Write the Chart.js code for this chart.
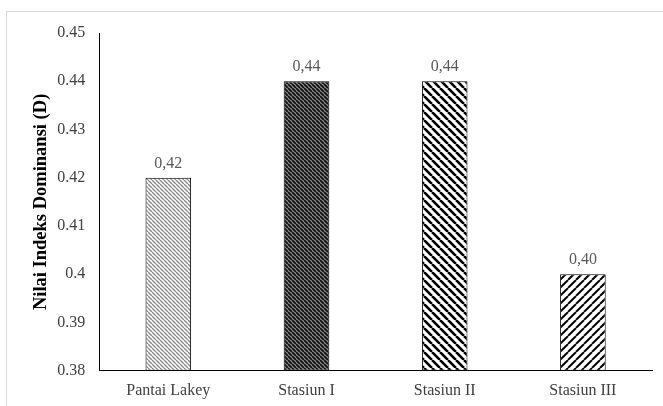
<!DOCTYPE html>
<html>
<head>
<meta charset="utf-8">
<script src="https://cdn.jsdelivr.net/npm/chart.js@4.4.1/dist/chart.umd.min.js"></script>
<style>
  html, body { margin: 0; padding: 0; background: #fff; }
  #wrap { width: 663px; height: 406px; position: relative; }
</style>
</head>
<body>
<div id="wrap"><canvas id="myChart" width="663" height="406"></canvas></div>
<script>
// data
const stasiun = ['Pantai Lakey', 'Stasiun I', 'Stasiun II', 'Stasiun III'];
const nilai_d = [0.42, 0.44, 0.44, 0.40];
const y_min = 0.38;
const y_max = 0.45;
const y_step = 0.01;

Chart.defaults.font.family = "'Liberation Serif', 'DejaVu Serif', serif";
Chart.defaults.font.size = 16;
Chart.defaults.color = '#404040';

// diagonal hatch tile, dir 1 = "\" , dir -1 = "/"
function makeHatch(size, lineColor, lineWidth, bg, dir) {
    const c = document.createElement('canvas');
    c.width = size;
    c.height = size;
    const g = c.getContext('2d');
    g.fillStyle = bg;
    g.fillRect(0, 0, size, size);
    g.strokeStyle = lineColor;
    g.lineWidth = lineWidth;
    g.beginPath();
    for (let k = -1; k <= 1; k++) {
        if (dir > 0) {
            g.moveTo(k * size, 0);
            g.lineTo(k * size + size, size);
        } else {
            g.moveTo(k * size, size);
            g.lineTo(k * size + size, 0);
        }
    }
    g.stroke();
    return g.createPattern(c, 'repeat');
}

const ctx = document.getElementById('myChart');

const fills = [
    makeHatch(4, '#8a8a8a', 1.4, '#ffffff', 1),
    makeHatch(4, '#111111', 1.8, '#8c8c8c', 1),
    makeHatch(8, '#000000', 2.6, '#ffffff', 1),
    makeHatch(8, '#000000', 2.0, '#ffffff', -1)
];

// light frame round the chart
const framePlugin = {
    id: 'frame',
    beforeDraw(chart) {
        const c = chart.ctx;
        c.save();
        c.fillStyle = '#fff';
        c.fillRect(0, 0, chart.width, chart.height);
        c.strokeStyle = '#d9d9d9';
        c.lineWidth = 1;
        c.strokeRect(6.5, 11.5, chart.width + 10, chart.height + 10);
        c.restore();
    }
};

// value labels above bars, with comma decimal
const labelPlugin = {
    id: 'valueLabels',
    afterDatasetsDraw(chart) {
        const c = chart.ctx;
        const meta = chart.getDatasetMeta(0);
        c.save();
        c.font = "16px 'Liberation Serif', serif";
        c.fillStyle = '#595959';
        c.textAlign = 'center';
        c.textBaseline = 'alphabetic';
        meta.data.forEach((bar, i) => {
            const txt = nilai_d[i].toFixed(2).replace('.', ',');
            c.fillText(txt, bar.x, bar.y - 10);
        });
        c.restore();
    }
};

new Chart(ctx, {
    type: 'bar',
    data: {
        labels: stasiun,
        datasets: [{
            data: nilai_d,
            backgroundColor: fills,
            borderColor: '#000',
            borderWidth: 1,
            borderSkipped: false,
            barPercentage: 0.33,
            categoryPercentage: 1.0,
            base: y_min
        }]
    },
    options: {
        responsive: false,
        animation: false,
        devicePixelRatio: 1,
        layout: { padding: { left: 30, right: 11, top: 33, bottom: -4 } },
        plugins: {
            legend: { display: false },
            tooltip: { enabled: false }
        },
        scales: {
            x: {
                grid: { display: false, drawTicks: false },
                border: { display: true, color: '#000', width: 1 },
                ticks: { padding: 10, color: '#404040', font: { size: 16 } }
            },
            y: {
                min: y_min,
                max: y_max,
                grid: { display: false, drawTicks: false },
                border: { display: true, color: '#000', width: 1 },
                ticks: {
                    stepSize: y_step,
                    padding: 14,
                    color: '#404040',
                    font: { size: 16 },
                    callback: (v) => String(parseFloat(v.toFixed(2)))
                },
                title: {
                    display: true,
                    text: 'Nilai Indeks Dominansi (D)',
                    color: '#000',
                    font: { size: 18.5, weight: 'bold' },
                    padding: { top: 0, bottom: -9 }
                }
            }
        }
    },
    plugins: [framePlugin, labelPlugin]
});
</script>
</body>
</html>
